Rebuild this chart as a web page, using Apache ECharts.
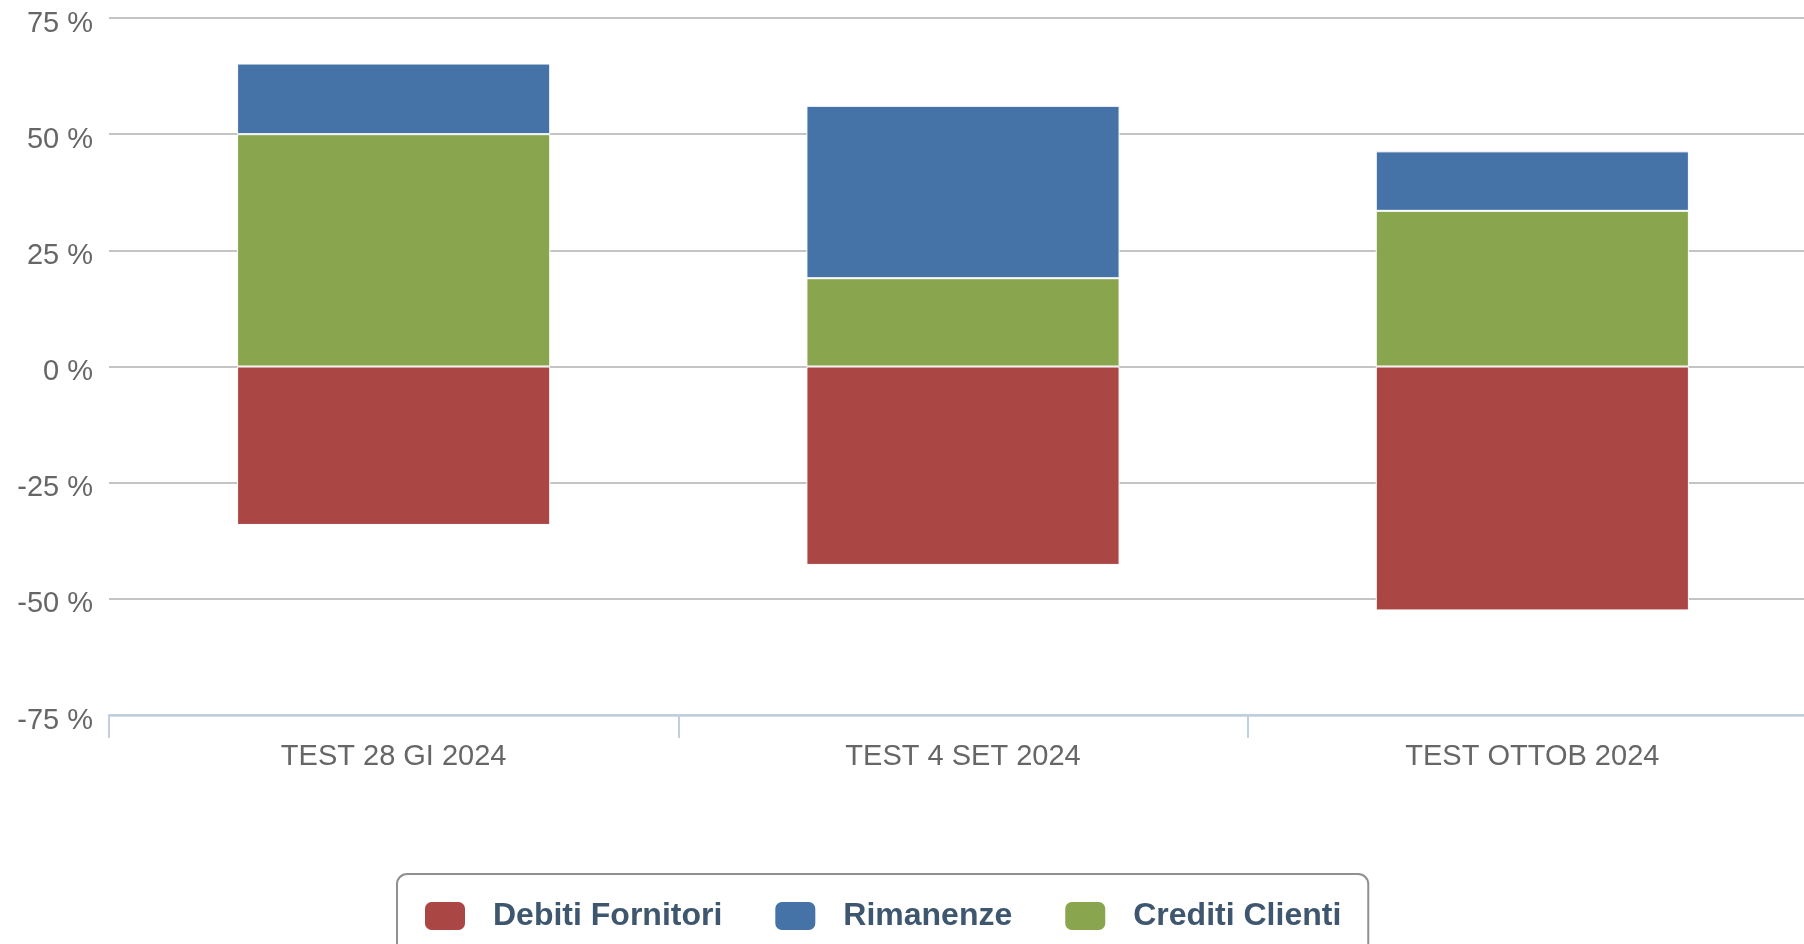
<!DOCTYPE html>
<html>
<head>
<meta charset="utf-8">
<script src="https://cdn.jsdelivr.net/npm/echarts@6/dist/echarts.min.js"></script>
<style>
html,body{margin:0;padding:0;background:#fff;}
#chart{width:1804px;height:944px;}
</style>
</head>
<body>
<div id="chart"></div>
<script>
const categories = ['TEST 28 GI 2024', 'TEST 4 SET 2024', 'TEST OTTOB 2024'];
const debitiFornitori = [-34.1, -42.7, -52.5];
const creditiClienti = [50.0, 19.0, 33.5];
const rimanenze = [15.2, 37.1, 12.8];
const legendOrder = ['Debiti Fornitori', 'Rimanenze', 'Crediti Clienti'];

const chart = echarts.init(document.getElementById('chart'));
const barStyle = (c) => ({ color: c, borderColor: '#ffffff', borderWidth: 1 });
chart.setOption({
  animation: false,
  textStyle: { fontFamily: 'Liberation Sans, Arial, sans-serif' },
  grid: { left: 109, top: 18, width: 1708, height: 697, containLabel: false, outerBoundsMode: 'none' },
  legend: {
    data: legendOrder,
    left: 397,
    top: 874,
    orient: 'horizontal',
    icon: 'roundRect',
    itemWidth: 42,
    itemHeight: 30,
    itemGap: 51,
    padding: [26, 27, 40, 26],
    borderColor: '#909090',
    borderWidth: 2,
    borderRadius: 10,
    textStyle: { color: '#3E576F', fontSize: 32, fontWeight: 'bold', padding: [0, 0, 0, 22], fontFamily: 'Liberation Sans, Arial, sans-serif' }
  },
  xAxis: {
    type: 'category',
    data: categories,
    axisLine: { show: true, onZero: false, lineStyle: { color: '#C0D0E0', width: 2.5 } },
    axisTick: { show: true, length: 23, interval: 0, lineStyle: { color: '#C0D0E0', width: 2 } },
    axisLabel: { color: '#666666', fontSize: 29, margin: 27 }
  },
  yAxis: {
    type: 'value',
    min: -75,
    max: 75,
    interval: 25,
    axisLine: { show: false },
    axisTick: { show: false },
    splitLine: { lineStyle: { color: '#C4C4C4', width: 2 } },
    axisLabel: {
      margin: 16,
      formatter: (v) => '{a|' + v + ' %}',
      rich: { a: { color: '#666666', fontSize: 29, padding: [11, 0, 0, 0], fontFamily: 'Liberation Sans, Arial, sans-serif' } }
    }
  },
  series: [
    { name: 'Debiti Fornitori', type: 'bar', stack: 'tot', barWidth: '55%', data: debitiFornitori, itemStyle: barStyle('#AA4643') },
    { name: 'Crediti Clienti', type: 'bar', stack: 'tot', barWidth: '55%', data: creditiClienti, itemStyle: barStyle('#89A54E') },
    { name: 'Rimanenze', type: 'bar', stack: 'tot', barWidth: '55%', data: rimanenze, itemStyle: barStyle('#4572A7') }
  ]
});
</script>
</body>
</html>
